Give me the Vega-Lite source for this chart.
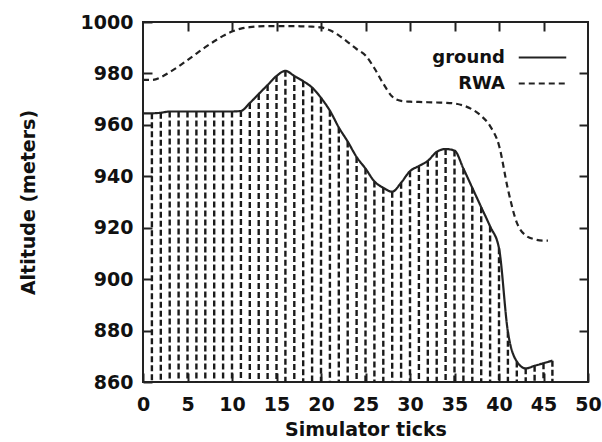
{
  "$schema": "https://vega.github.io/schema/vega-lite/v6.json",
  "width": 445,
  "height": 360,
  "autosize": {"type": "none"},
  "padding": {"left": 143, "top": 22, "right": 14, "bottom": 60},
  "background": "white",
  "config": {
    "view": {"stroke": "#222", "strokeWidth": 2},
    "font": "DejaVu Sans",
    "axis": {
      "grid": false, "domain": false, "ticks": true, "tickSize": 9, "offset": -9, "tickColor": "#222", "tickWidth": 2, "tickOpacity": 1,
      "zindex": 1, "labelFlush": false, "format": "d",
      "labelFont": "DejaVu Sans", "labelFontWeight": "bold", "labelFontSize": 19, "labelColor": "#111",
      "titleFont": "DejaVu Sans", "titleFontSize": 19, "titleFontWeight": "bold", "titleColor": "#111"
    }
  },
  "datasets": {
    "alt": [
      {"t": 0, "alt": 964.5, "series": "ground"},
      {"t": 1, "alt": 964.5, "series": "ground"},
      {"t": 2, "alt": 964.7, "series": "ground"},
      {"t": 3, "alt": 965.2, "series": "ground"},
      {"t": 4, "alt": 965.2, "series": "ground"},
      {"t": 5, "alt": 965.2, "series": "ground"},
      {"t": 6, "alt": 965.2, "series": "ground"},
      {"t": 7, "alt": 965.2, "series": "ground"},
      {"t": 8, "alt": 965.2, "series": "ground"},
      {"t": 9, "alt": 965.2, "series": "ground"},
      {"t": 10, "alt": 965.2, "series": "ground"},
      {"t": 11, "alt": 965.4, "series": "ground"},
      {"t": 12, "alt": 968.5, "series": "ground"},
      {"t": 13, "alt": 972, "series": "ground"},
      {"t": 14, "alt": 975.5, "series": "ground"},
      {"t": 15, "alt": 979, "series": "ground"},
      {"t": 16, "alt": 981, "series": "ground"},
      {"t": 17, "alt": 979, "series": "ground"},
      {"t": 18, "alt": 977, "series": "ground"},
      {"t": 19, "alt": 974.5, "series": "ground"},
      {"t": 20, "alt": 970.5, "series": "ground"},
      {"t": 21, "alt": 965.5, "series": "ground"},
      {"t": 22, "alt": 959, "series": "ground"},
      {"t": 23, "alt": 953.5, "series": "ground"},
      {"t": 24, "alt": 947.5, "series": "ground"},
      {"t": 25, "alt": 943, "series": "ground"},
      {"t": 26, "alt": 938, "series": "ground"},
      {"t": 27, "alt": 935.5, "series": "ground"},
      {"t": 28, "alt": 934, "series": "ground"},
      {"t": 29, "alt": 937.5, "series": "ground"},
      {"t": 30, "alt": 942, "series": "ground"},
      {"t": 31, "alt": 944, "series": "ground"},
      {"t": 32, "alt": 946, "series": "ground"},
      {"t": 33, "alt": 949.5, "series": "ground"},
      {"t": 34, "alt": 950.6, "series": "ground"},
      {"t": 35, "alt": 950, "series": "ground"},
      {"t": 36, "alt": 943, "series": "ground"},
      {"t": 37, "alt": 935.5, "series": "ground"},
      {"t": 38, "alt": 928, "series": "ground"},
      {"t": 39, "alt": 920.5, "series": "ground"},
      {"t": 40, "alt": 912, "series": "ground"},
      {"t": 41, "alt": 879.5, "series": "ground"},
      {"t": 42, "alt": 868, "series": "ground"},
      {"t": 43, "alt": 865.3, "series": "ground"},
      {"t": 44, "alt": 866.3, "series": "ground"},
      {"t": 45, "alt": 867.3, "series": "ground"},
      {"t": 46, "alt": 868.3, "series": "ground"},
      {"t": 0, "alt": 977.5, "series": "RWA"},
      {"t": 1, "alt": 977.5, "series": "RWA"},
      {"t": 2, "alt": 978.5, "series": "RWA"},
      {"t": 3, "alt": 980.5, "series": "RWA"},
      {"t": 4, "alt": 982.7, "series": "RWA"},
      {"t": 5, "alt": 985.2, "series": "RWA"},
      {"t": 6, "alt": 987.7, "series": "RWA"},
      {"t": 7, "alt": 990.2, "series": "RWA"},
      {"t": 8, "alt": 992.5, "series": "RWA"},
      {"t": 9, "alt": 994.6, "series": "RWA"},
      {"t": 10, "alt": 996.3, "series": "RWA"},
      {"t": 11, "alt": 997.4, "series": "RWA"},
      {"t": 12, "alt": 998, "series": "RWA"},
      {"t": 13, "alt": 998.3, "series": "RWA"},
      {"t": 14, "alt": 998.4, "series": "RWA"},
      {"t": 15, "alt": 998.4, "series": "RWA"},
      {"t": 16, "alt": 998.4, "series": "RWA"},
      {"t": 17, "alt": 998.4, "series": "RWA"},
      {"t": 18, "alt": 998.3, "series": "RWA"},
      {"t": 19, "alt": 998.2, "series": "RWA"},
      {"t": 20, "alt": 997.9, "series": "RWA"},
      {"t": 21, "alt": 996.8, "series": "RWA"},
      {"t": 22, "alt": 994.8, "series": "RWA"},
      {"t": 23, "alt": 992.2, "series": "RWA"},
      {"t": 24, "alt": 989.5, "series": "RWA"},
      {"t": 25, "alt": 987, "series": "RWA"},
      {"t": 26, "alt": 982, "series": "RWA"},
      {"t": 27, "alt": 976, "series": "RWA"},
      {"t": 28, "alt": 971, "series": "RWA"},
      {"t": 29, "alt": 969.3, "series": "RWA"},
      {"t": 30, "alt": 969, "series": "RWA"},
      {"t": 31, "alt": 968.9, "series": "RWA"},
      {"t": 32, "alt": 968.8, "series": "RWA"},
      {"t": 33, "alt": 968.7, "series": "RWA"},
      {"t": 34, "alt": 968.6, "series": "RWA"},
      {"t": 35, "alt": 968.3, "series": "RWA"},
      {"t": 36, "alt": 967.5, "series": "RWA"},
      {"t": 37, "alt": 966, "series": "RWA"},
      {"t": 38, "alt": 963.5, "series": "RWA"},
      {"t": 39, "alt": 959.5, "series": "RWA"},
      {"t": 40, "alt": 952, "series": "RWA"},
      {"t": 41, "alt": 935, "series": "RWA"},
      {"t": 42, "alt": 922, "series": "RWA"},
      {"t": 43, "alt": 917, "series": "RWA"},
      {"t": 44, "alt": 915.5, "series": "RWA"},
      {"t": 45, "alt": 915, "series": "RWA"},
      {"t": 45.5, "alt": 915, "series": "RWA"}
    ]
  },
  "data": {"name": "alt"},
  "layer": [
    {
      "transform": [{"filter": "datum.series === 'ground' && datum.t >= 1"}],
      "mark": {"type": "rule", "strokeDash": [6, 3], "strokeWidth": 2.4, "color": "#1a1a1a"},
      "encoding": {
        "x": {"field": "t", "type": "quantitative", "scale": {"domain": [0, 50], "nice": false},
              "axis": {"orient": "bottom", "values": [0, 5, 10, 15, 20, 25, 30, 35, 40, 45, 50], "title": "Simulator ticks", "labelPadding": 13, "titlePadding": 6}},
        "y": {"field": "alt", "type": "quantitative", "scale": {"domain": [860, 1000], "nice": false, "zero": false},
              "axis": {"orient": "left", "values": [860, 880, 900, 920, 940, 960, 980, 1000], "title": "Altitude (meters)", "labelPadding": 10, "titlePadding": 42}},
        "y2": {"datum": 860}
      }
    },
    {
      "mark": {"type": "line", "interpolate": "monotone", "strokeWidth": 2.2, "color": "#222"},
      "encoding": {
        "x": {"field": "t", "type": "quantitative", "scale": {"domain": [0, 50], "nice": false},
              "axis": {"orient": "top", "values": [5, 10, 15, 20, 25, 30, 35, 40, 45], "labels": false, "title": null}},
        "y": {"field": "alt", "type": "quantitative", "scale": {"domain": [860, 1000], "nice": false, "zero": false},
              "axis": {"orient": "right", "values": [880, 900, 920, 940, 960, 980], "labels": false, "title": null}},
        "strokeDash": {"field": "series", "type": "nominal",
          "scale": {"domain": ["ground", "RWA"], "range": [[1, 0], [6, 4]]},
          "legend": {"orient": "none", "legendX": 389, "legendY": 25, "title": null, "symbolType": "M-2.5,0H2.5", "symbolSize": 361,
            "symbolStrokeWidth": 2, "symbolStrokeColor": "#222", "symbolFillColor": "transparent", "labelFontSize": 18, "labelFont": "DejaVu Sans", "labelFontWeight": "bold",
            "labelColor": "#111", "labelAlign": "right", "labelOffset": -48, "rowPadding": 6, "padding": 0}}
      }
    }
  ],
  "resolve": {"axis": {"x": "independent", "y": "independent"}}
}
